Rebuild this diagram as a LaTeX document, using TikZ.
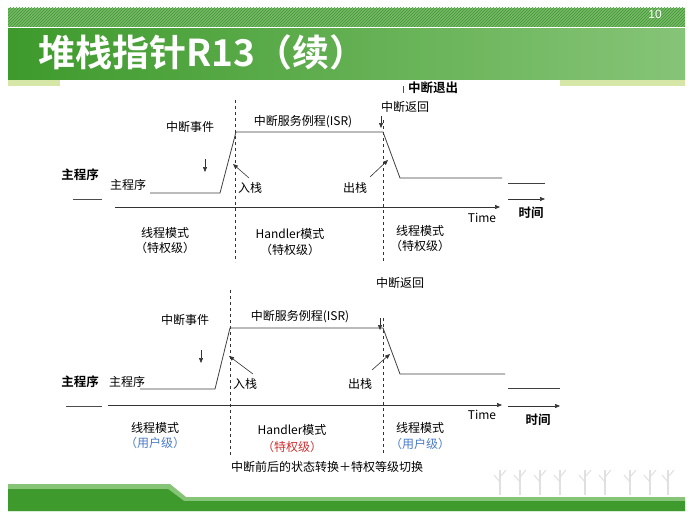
\documentclass[tikz,border=0pt]{standalone}
\usepackage{fontspec}
\setmainfont{Liberation Sans}
\newfontfamily\cjk{Noto Sans CJK SC}
\newfontfamily\cjkb{Noto Sans CJK SC Bold}
\usetikzlibrary{arrows.meta,patterns}
\definecolor{gdark}{HTML}{3E9A2C}
\definecolor{glight}{HTML}{86C477}
\definecolor{pale}{HTML}{D6E6A6}
\definecolor{ublue}{HTML}{4A7BC8}
\definecolor{pred}{HTML}{D03030}
\tikzset{
 lbl/.style={font=\cjk\fontsize{12}{14}\selectfont, inner sep=0pt},
 blbl/.style={font=\cjkb\fontsize{12.5}{14}\selectfont, inner sep=0pt},
 sig/.style={draw=black!75, line width=0.8pt},
 dln/.style={draw=black!80, dashed, line width=0.6pt},
 arr/.style={draw=black!80, line width=0.6pt, -{Triangle[length=5pt,width=4pt]}},
}
\begin{document}
\begin{tikzpicture}[x=1pt,y=-1pt]
\useasboundingbox (0,0) rectangle (691,519);
\fill[white] (0,0) rectangle (691,519);
% header
\fill[gdark!70] (8,8) rectangle (685,27);
\fill[pattern=north east lines, pattern color=gdark] (8,8) rectangle (685,27);
\shade[left color=gdark, right color=glight] (8,29) rectangle (685,80);
\fill[pale] (8,80) rectangle (685,86);
\fill[white] (60,80) rectangle (560,92);
\node[font=\cjkb\fontsize{37}{40}\selectfont, text=white, anchor=west, inner sep=0pt] (title) at (38,52) {堆栈指针R13（续）};
\node[font=\fontsize{12}{13}\selectfont, text=white, inner sep=0pt] (pg) at (655,14) {10};
% footer
\fill[glight] (8,484) -- (170,484) -- (186,497) -- (685,497) -- (685,511) -- (8,511) -- cycle;
\fill[gdark] (8,489) -- (168,489) -- (184,501) -- (685,501) -- (685,511) -- (8,511) -- cycle;
\foreach \x in {500,520,540,560,585,605,630,650,668}{
  \draw[black!12, line width=1.2pt] (\x,495) -- (\x,470);
  \draw[black!12, line width=1pt] (\x,482) -- (\x-6,475) (\x,477) -- (\x+6,470);
}
%%%%% diagram 1
\node[blbl, anchor=west] (exit1) at (408,88) {中断退出};
\draw[black!70] (403,86) -- (403,93);
\node[lbl] (ret1) at (405,107) {中断返回};
\node[lbl] (evt1) at (190,127) {中断事件};
\node[lbl] (isr1) at (303,122) {中断服务例程(ISR)};
\coordinate (d1a) at (235,100); \coordinate (d1b) at (235,262);
\coordinate (d2a) at (383,120); \coordinate (d2b) at (383,262);
\draw[dln] (d1a) -- (d1b); \draw[dln] (d2a) -- (d2b);
\draw[sig] (150,193) -- (220,193) -- (236,132) -- (383,132) -- (400,178) -- (502,178);
\draw[sig] (508,183) -- (545,183);
\coordinate (ev1a) at (205,159); \coordinate (ev1b) at (205,172);
\draw[arr] (ev1a) -- (ev1b);
\coordinate (r1a) at (381,116); \coordinate (r1b) at (381,128);
\draw[arr] (r1a) -- (r1b);
\node[lbl] (in1) at (250,188) {入栈};
\coordinate (in1t) at (233,164);
\draw[arr] (249,178) -- (in1t);
\node[lbl] (out1) at (355,188) {出栈};
\coordinate (out1t) at (388,160);
\draw[arr] (370,177) -- (out1t);
\node[blbl] (mp1) at (80,175) {主程序};
\node[lbl] (mpa) at (128,185) {主程序};
\draw[black!70] (73,199) -- (102,199);
\coordinate (t1a) at (115,207); \coordinate (t1b) at (500,207);
\draw[arr] (t1a) -- (t1b);
\node[lbl] (time1) at (482,218) {Time};
\coordinate (s1a) at (508,199); \coordinate (s1b) at (545,199);
\draw[arr] (s1a) -- (s1b);
\node[blbl] (sj1) at (531,213) {时间};
\node[lbl] (m1) at (165,233) {线程模式};
\node[lbl] (p1) at (165,248) {（特权级）};
\node[lbl] (h1) at (290,234) {Handler模式};
\node[lbl] (p2) at (290,250) {（特权级）};
\node[lbl] (m3) at (420,231) {线程模式};
\node[lbl] (p3) at (420,246) {（特权级）};
%%%%% diagram 2
\node[lbl] (ret2) at (400,283) {中断返回};
\node[lbl] (evt2) at (185,320) {中断事件};
\node[lbl] (isr2) at (300,317) {中断服务例程(ISR)};
\draw[dln] (230,290) -- (230,455); \draw[dln] (383,318) -- (383,455);
\draw[sig] (140,389) -- (215,389) -- (230,328) -- (383,328) -- (400,374) -- (505,374);
\draw[sig] (508,388) -- (560,388);
\draw[arr] (201,350) -- (201,363);
\draw[arr] (380,318) -- (380,330);
\node[lbl] (in2) at (245,384) {入栈};
\draw[arr] (253,374) -- (229,356);
\node[lbl] (out2) at (360,384) {出栈};
\draw[arr] (372,370) -- (390,354);
\node[blbl] (mp2) at (80,382) {主程序};
\node[lbl] (mpb) at (127,382) {主程序};
\draw[black!70] (66,406) -- (102,406);
\draw[arr] (108,405) -- (502,405);
\node[lbl] (time2) at (482,415) {Time};
\draw[arr] (508,406) -- (560,406);
\node[blbl] (sj2) at (538,420) {时间};
\node[lbl] (m4) at (155,428) {线程模式};
\node[lbl, text=ublue] (u4) at (155,443) {（用户级）};
\node[lbl] (h5) at (292,430) {Handler模式};
\node[lbl, text=pred] (p5) at (292,447) {（特权级）};
\node[lbl] (m6) at (420,428) {线程模式};
\node[lbl, text=ublue] (u6) at (420,444) {（用户级）};
\node[lbl] (cap) at (327,467) {中断前后的状态转换＋特权等级切换};
\end{tikzpicture}
\end{document}
